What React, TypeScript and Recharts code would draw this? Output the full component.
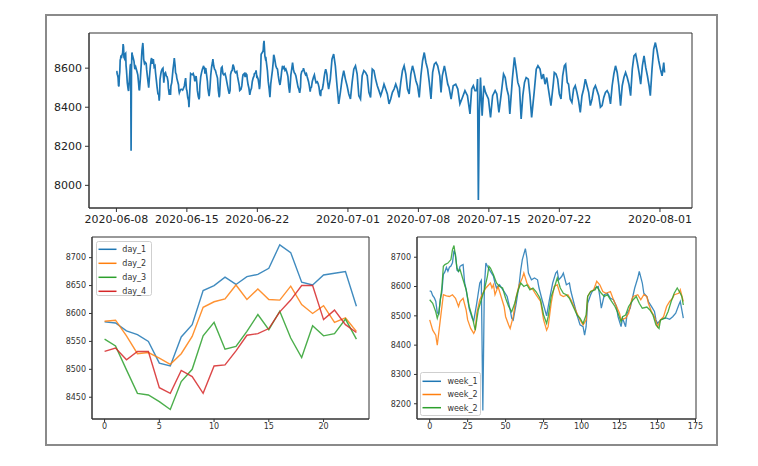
import React from 'react';
import { LineChart, Line, XAxis, YAxis, ReferenceArea, Legend } from 'recharts';

const FONT = '"DejaVu Sans", Verdana, sans-serif';
const AXIS = '#333333';
const BLUE = '#1f77b4';
const ORANGE = '#ff7f0e';
const GREEN = '#2ca02c';
const RED = '#d62728';

// ---------- bottom-left: four days, hourly ----------
const dayHours = [0, 1, 2, 3, 4, 5, 6, 7, 8, 9, 10, 11, 12, 13, 14, 15, 16, 17, 18, 19, 20, 21, 22, 23];
const day1 = [8585, 8583, 8569, 8562, 8550, 8511, 8506, 8558, 8580, 8641, 8650, 8665, 8652, 8666, 8670, 8681, 8723, 8709, 8656, 8651, 8669, 8672, 8675, 8613];
const day2 = [8586, 8588, 8560, 8528, 8530, 8520, 8509, 8528, 8559, 8611, 8621, 8626, 8651, 8625, 8644, 8625, 8624, 8649, 8616, 8600, 8614, 8584, 8592, 8568];
const day3 = [8554, 8542, 8499, 8457, 8454, 8442, 8428, 8478, 8500, 8560, 8584, 8536, 8541, 8568, 8598, 8571, 8604, 8556, 8521, 8578, 8560, 8564, 8590, 8554];
const day4 = [8532, 8538, 8517, 8532, 8532, 8467, 8457, 8498, 8487, 8457, 8506, 8508, 8533, 8561, 8564, 8573, 8603, 8624, 8650, 8650, 8589, 8606, 8580, 8566];
const dayNames = ['day_1', 'day_2', 'day_3', 'day_4'];
const dayTicksX = [0, 5, 10, 15, 20];
const dayTicksY = [8450, 8500, 8550, 8600, 8650, 8700];

// ---------- bottom-right: three weeks, [hour, value] ----------
const week1: [number, number][] = [
  [0, 8585], [1, 8583], [2, 8569], [3, 8562], [4, 8550], [5, 8511], [6, 8506], [7, 8558], [8, 8580], [9, 8641],
  [10, 8650], [11, 8665], [12, 8652], [13, 8666], [14, 8670], [15, 8681], [16, 8723], [17, 8709], [18, 8656], [19, 8651],
  [20, 8669], [21, 8672], [22, 8675], [23, 8613], [24, 8590], [26, 8525], [28, 8492], [29, 8483], [31, 8543], [33, 8612],
  [34, 8621], [35, 8177], [36, 8600], [37, 8680], [38, 8669], [40, 8652], [42, 8635], [43, 8612], [44, 8595], [46, 8606],
  [49, 8583], [51, 8566], [53, 8520], [54, 8492], [55, 8486], [57, 8543], [59, 8612], [60, 8658], [61, 8692], [63, 8729],
  [64, 8698], [65, 8646], [67, 8623], [69, 8629], [71, 8623], [72, 8595], [74, 8555], [77, 8500], [79, 8560], [81, 8612],
  [83, 8646], [84, 8652], [85, 8623], [87, 8635], [88, 8646], [90, 8606], [92, 8612], [93, 8583], [95, 8543], [97, 8503],
  [99, 8469], [101, 8463], [102, 8434], [103, 8463], [104, 8543], [106, 8572], [107, 8583], [109, 8595], [111, 8600], [112, 8566],
  [113, 8526], [115, 8572], [117, 8577], [119, 8560], [121, 8555], [123, 8532], [124, 8497], [126, 8463], [127, 8492], [129, 8463],
  [130, 8509], [132, 8526], [134, 8572], [135, 8595], [137, 8629], [138, 8652], [140, 8612], [141, 8577], [143, 8566], [144, 8549],
  [146, 8532], [148, 8515], [149, 8486], [150, 8474], [152, 8486], [154, 8492], [156, 8492], [158, 8488], [160, 8497], [162, 8509],
  [164, 8537], [165, 8549], [167, 8492],
];
const week2: [number, number][] = [
  [0, 8486], [2, 8451], [4, 8434], [5, 8400], [7, 8486], [9, 8572], [11, 8568], [13, 8566], [15, 8572], [17, 8560],
  [19, 8532], [20, 8549], [22, 8560], [24, 8520], [25, 8486], [27, 8457], [29, 8440], [30, 8451], [31, 8509], [33, 8555],
  [35, 8577], [37, 8595], [40, 8612], [41, 8595], [42, 8606], [43, 8572], [45, 8600], [46, 8583], [49, 8532], [50, 8497],
  [52, 8469], [53, 8457], [55, 8497], [57, 8566], [59, 8606], [61, 8629], [62, 8646], [64, 8612], [66, 8595], [68, 8589],
  [70, 8572], [73, 8549], [75, 8486], [77, 8451], [78, 8463], [80, 8543], [82, 8600], [84, 8606], [86, 8572], [88, 8566],
  [91, 8572], [93, 8555], [95, 8532], [97, 8509], [99, 8486], [101, 8469], [103, 8486], [104, 8566], [106, 8583], [108, 8589],
  [110, 8618], [112, 8606], [114, 8583], [116, 8577], [119, 8583], [121, 8555], [123, 8532], [125, 8509], [126, 8486], [129, 8492],
  [131, 8509], [133, 8555], [134, 8566], [137, 8572], [139, 8555], [141, 8572], [143, 8566], [144, 8543], [146, 8515], [148, 8497],
  [150, 8463], [152, 8486], [154, 8497], [156, 8532], [158, 8549], [160, 8560], [161, 8572], [164, 8577], [165, 8589], [167, 8549],
];
const week3: [number, number][] = [
  [0, 8555], [2, 8543], [4, 8514], [5, 8492], [6, 8509], [8, 8595], [9, 8669], [10, 8675], [12, 8680], [14, 8692],
  [15, 8726], [16, 8740], [17, 8703], [18, 8663], [19, 8652], [20, 8658], [22, 8623], [24, 8589], [26, 8532], [28, 8497],
  [29, 8474], [30, 8451], [32, 8520], [34, 8555], [36, 8589], [38, 8635], [39, 8669], [40, 8663], [42, 8640], [44, 8612],
  [46, 8600], [48, 8595], [50, 8560], [52, 8532], [54, 8514], [56, 8543], [58, 8583], [60, 8612], [62, 8600], [64, 8606],
  [66, 8589], [68, 8595], [70, 8583], [72, 8566], [73, 8555], [75, 8503], [77, 8474], [78, 8497], [80, 8566], [82, 8595],
  [84, 8629], [86, 8595], [88, 8577], [90, 8572], [92, 8560], [95, 8526], [97, 8503], [99, 8492], [101, 8474], [103, 8503],
  [104, 8566], [106, 8583], [109, 8589], [110, 8600], [113, 8577], [115, 8566], [117, 8572], [119, 8555], [122, 8532], [124, 8509],
  [126, 8480], [127, 8497], [129, 8503], [131, 8532], [134, 8555], [136, 8566], [138, 8543], [140, 8526], [143, 8530], [145, 8520],
  [147, 8503], [149, 8469], [151, 8457], [152, 8486], [155, 8492], [157, 8515], [159, 8549], [161, 8577], [163, 8595], [165, 8577],
  [166, 8566], [167, 8537],
];
const weekNames = ['week_1', 'week_2', 'week_2'];
const weekTicksX = [0, 25, 50, 75, 100, 125, 150, 175];
const weekTicksY = [8200, 8300, 8400, 8500, 8600, 8700];

// ---------- top: whole series after the first three weeks, [hour since 2020-06-08, value] ----------
const restSeries: [number, number][] = [
  [506, 8493], [510, 8544], [514, 8646], [518, 8672], [522, 8612], [526, 8510], [530, 8417], [534, 8476], [538, 8544], [542, 8587],
  [546, 8544], [550, 8510], [554, 8468], [558, 8442], [562, 8527], [566, 8595], [570, 8612], [574, 8570], [578, 8459], [582, 8442],
  [586, 8561], [590, 8587], [594, 8578], [598, 8561], [602, 8476], [606, 8450], [610, 8595], [614, 8587], [618, 8544], [622, 8510],
  [626, 8485], [630, 8459], [634, 8485], [638, 8518], [642, 8493], [646, 8468], [650, 8417], [654, 8442], [658, 8476], [662, 8493],
  [666, 8518], [670, 8493], [674, 8450], [678, 8527], [682, 8587], [686, 8612], [690, 8570], [694, 8493], [698, 8468], [702, 8570],
  [706, 8612], [710, 8578], [714, 8536], [718, 8510], [722, 8450], [726, 8561], [730, 8638], [734, 8680], [738, 8629], [742, 8595],
  [746, 8527], [750, 8442], [754, 8578], [758, 8620], [762, 8629], [766, 8612],
  [771, 8561], [774, 8476], [777, 8561], [782, 8612], [785, 8578], [790, 8518], [793, 8501], [798, 8442], [803, 8510], [809, 8518],
  [814, 8493], [819, 8417], [825, 8450], [831, 8485], [837, 8459], [843, 8366], [847, 8493], [851, 8510], [855, 8485], [859, 8485],
  [861, 8544], [863, 7925], [865, 8340], [868, 8552], [872, 8357], [876, 8510], [880, 8476], [887, 8442], [892, 8348], [897, 8459],
  [903, 8485], [907, 8468], [912, 8374], [917, 8459], [923, 8570], [927, 8552], [931, 8493], [935, 8459], [938, 8366], [944, 8544],
  [949, 8655], [953, 8595], [957, 8527], [961, 8501], [965, 8340], [969, 8459], [973, 8527], [977, 8552], [982, 8544], [986, 8459],
  [990, 8348], [996, 8476], [1001, 8595], [1005, 8612], [1010, 8595], [1014, 8544], [1018, 8570], [1022, 8518], [1026, 8552], [1030, 8493],
  [1036, 8408], [1042, 8527],
  [1044, 8578], [1048, 8570], [1052, 8544], [1056, 8468], [1060, 8442], [1064, 8561], [1068, 8612], [1071, 8620], [1075, 8527], [1078, 8518],
  [1082, 8442], [1086, 8425], [1090, 8493], [1094, 8510], [1098, 8476], [1102, 8433], [1106, 8374], [1110, 8459], [1114, 8493], [1118, 8544],
  [1122, 8510], [1126, 8476], [1130, 8408], [1134, 8442], [1138, 8493], [1142, 8510], [1146, 8485], [1150, 8459], [1154, 8400], [1158, 8408],
  [1162, 8450], [1166, 8476], [1170, 8485], [1174, 8468], [1178, 8417], [1182, 8510], [1186, 8570], [1190, 8612], [1194, 8578], [1198, 8510],
  [1202, 8408], [1206, 8510], [1210, 8552], [1214, 8578], [1218, 8552], [1222, 8518], [1226, 8459], [1230, 8595], [1234, 8663], [1238, 8672],
  [1242, 8629], [1246, 8578], [1250, 8518], [1254, 8612], [1258, 8663], [1262, 8604], [1266, 8561], [1270, 8510], [1273, 8459], [1277, 8595],
  [1281, 8697], [1285, 8731], [1289, 8689], [1293, 8638], [1297, 8595], [1301, 8561], [1305, 8629], [1307, 8578],
];
const topTickHours = [0, 168, 336, 552, 720, 888, 1056, 1296];
const topTickLabels = ['2020-06-08', '2020-06-15', '2020-06-22', '2020-07-01', '2020-07-08', '2020-07-15', '2020-07-22', '2020-08-01'];
const topTicksY = [8000, 8200, 8400, 8600];

// ---------- assembled tables ----------
const toPoints = (pairs: [number, number][], offset: number) => pairs.map(([h, v]) => ({ h: h + offset, v }));
const topData = [
  ...toPoints(week1, 0),
  ...toPoints(week2, 168),
  ...toPoints(week3, 336),
  ...toPoints(restSeries, 0),
];
const dayData = dayHours.map((h, i) => ({ h, day_1: day1[i], day_2: day2[i], day_3: day3[i], day_4: day4[i] }));
const week1Data = toPoints(week1, 0);
const week2Data = toPoints(week2, 0);
const week3Data = toPoints(week3, 0);

const TOP_X: [number, number] = [-65.35, 1372.35];
const TOP_Y: [number, number] = [7884, 8780];
const DAY_X: [number, number] = [-1.15, 24.15];
const DAY_Y: [number, number] = [8411, 8737];
const WEEK_X: [number, number] = [-8.35, 175.35];
const WEEK_Y: [number, number] = [8148, 8769];

type LegendSpec = { w: number; h: number; first: number; step: number; x1: number; x2: number; tx: number };
const makeLegend = (names: string[], colors: string[], spec: LegendSpec) => () => (
  <svg width={spec.w} height={spec.h} style={{ display: 'block' }}>
    <rect x={0.5} y={0.5} width={spec.w - 1} height={spec.h - 1} rx={2} fill="rgba(255,255,255,0.8)" stroke="#cfcfcf" />
    {names.map((n, i) => {
      const y = spec.first + i * spec.step;
      return (
        <g key={i}>
          <line x1={spec.x1} x2={spec.x2} y1={y} y2={y} stroke={colors[i]} strokeWidth={1.5} />
          <text x={spec.tx} y={y} dy="0.35em" fontSize={8} fontFamily={FONT} fill="#333">{n}</text>
        </g>
      );
    })}
  </svg>
);

const smallTick = { fill: '#333', fontSize: 8, fontFamily: FONT };
const bigTick = { fill: '#222', fontSize: 11, fontFamily: FONT };

export default function App() {
  return (
    <div style={{ position: 'absolute', left: 0, top: 0, width: 758, height: 466, background: '#fff' }}>
      <div style={{ position: 'absolute', left: 45, top: 14, width: 673, height: 432, border: '2px solid #8a8a8a', boxSizing: 'border-box' }} />

      {/* top chart */}
      <div style={{ position: 'absolute', left: 30, top: 25 }}>
        <LineChart width={670} height={210} data={topData} margin={{ top: 8, right: 8, left: 0, bottom: 0 }}>
          <XAxis dataKey="h" type="number" domain={TOP_X} allowDataOverflow ticks={topTickHours} interval={0}
            tickFormatter={(v: number) => topTickLabels[topTickHours.indexOf(v)]}
            tickSize={4} tickMargin={3} height={27} stroke={AXIS} tick={bigTick} />
          <YAxis type="number" domain={TOP_Y} allowDataOverflow ticks={topTicksY} interval={0}
            width={59} tickSize={4} tickMargin={3} stroke={AXIS} tick={bigTick} />
          <Line type="linear" dataKey="v" stroke={BLUE} strokeWidth={1.7} dot={false} isAnimationActive={false} />
          <ReferenceArea x1={TOP_X[0]} x2={TOP_X[1]} y1={TOP_Y[0]} y2={TOP_Y[1]} fill="none" stroke={AXIS} strokeWidth={1} ifOverflow="visible" />
        </LineChart>
      </div>

      {/* bottom-left chart */}
      <div style={{ position: 'absolute', left: 40, top: 230 }}>
        <LineChart width={335} height={210} data={dayData} margin={{ top: 7, right: 6, left: 0, bottom: 0 }}>
          <XAxis dataKey="h" type="number" domain={DAY_X} allowDataOverflow ticks={dayTicksX} interval={0}
            tickSize={3} tickMargin={1} height={21} stroke={AXIS} tick={smallTick} />
          <YAxis type="number" domain={DAY_Y} allowDataOverflow ticks={dayTicksY} interval={0}
            width={52} tickSize={3} tickMargin={3} stroke={AXIS} tick={smallTick} />
          <Line type="linear" dataKey="day_1" name="day_1" stroke={BLUE} strokeWidth={1.4} strokeOpacity={0.85} dot={false} isAnimationActive={false} />
          <Line type="linear" dataKey="day_2" name="day_2" stroke={ORANGE} strokeWidth={1.4} strokeOpacity={0.85} dot={false} isAnimationActive={false} />
          <Line type="linear" dataKey="day_3" name="day_3" stroke={GREEN} strokeWidth={1.4} strokeOpacity={0.85} dot={false} isAnimationActive={false} />
          <Line type="linear" dataKey="day_4" name="day_4" stroke={RED} strokeWidth={1.4} strokeOpacity={0.85} dot={false} isAnimationActive={false} />
          <ReferenceArea x1={DAY_X[0]} x2={DAY_X[1]} y1={DAY_Y[0]} y2={DAY_Y[1]} fill="none" stroke={AXIS} strokeWidth={1} ifOverflow="visible" />
          <Legend layout="horizontal" verticalAlign="middle" align="center"
            wrapperStyle={{ left: 56, top: 11, width: 56, height: 55 }}
            content={makeLegend(dayNames, [BLUE, ORANGE, GREEN, RED], { w: 56, h: 55, first: 8.3, step: 14, x1: 2.5, x2: 20.5, tx: 26.3 })} />
        </LineChart>
      </div>

      {/* bottom-right chart */}
      <div style={{ position: 'absolute', left: 370, top: 230 }}>
        <LineChart width={345} height={210} margin={{ top: 7, right: 19, left: 0, bottom: 0 }}>
          <XAxis dataKey="h" type="number" domain={WEEK_X} allowDataOverflow ticks={weekTicksX} interval={0}
            tickSize={3} tickMargin={1} height={21} stroke={AXIS} tick={smallTick} />
          <YAxis type="number" domain={WEEK_Y} allowDataOverflow ticks={weekTicksY} interval={0}
            width={47} tickSize={3} tickMargin={3} stroke={AXIS} tick={smallTick} />
          <ReferenceArea x1={WEEK_X[0]} x2={WEEK_X[1]} y1={WEEK_Y[0]} y2={WEEK_Y[1]} fill="none" stroke={AXIS} strokeWidth={1} ifOverflow="visible" />
          <Legend layout="horizontal" verticalAlign="middle" align="center"
            wrapperStyle={{ left: 50, top: 141.7, width: 61, height: 44 }}
            content={makeLegend(weekNames, [BLUE, ORANGE, GREEN], { w: 61, h: 44, first: 9.3, step: 13.2, x1: 2.5, x2: 21, tx: 27.4 })} />
          <Line data={week1Data} type="linear" dataKey="v" name="week_1" stroke={BLUE} strokeWidth={1.3} strokeOpacity={0.85} dot={false} isAnimationActive={false} />
          <Line data={week2Data} type="linear" dataKey="v" name="week_2" stroke={ORANGE} strokeWidth={1.3} strokeOpacity={0.85} dot={false} isAnimationActive={false} />
          <Line data={week3Data} type="linear" dataKey="v" name="week_2" stroke={GREEN} strokeWidth={1.3} strokeOpacity={0.85} dot={false} isAnimationActive={false} />
        </LineChart>
      </div>
    </div>
  );
}
